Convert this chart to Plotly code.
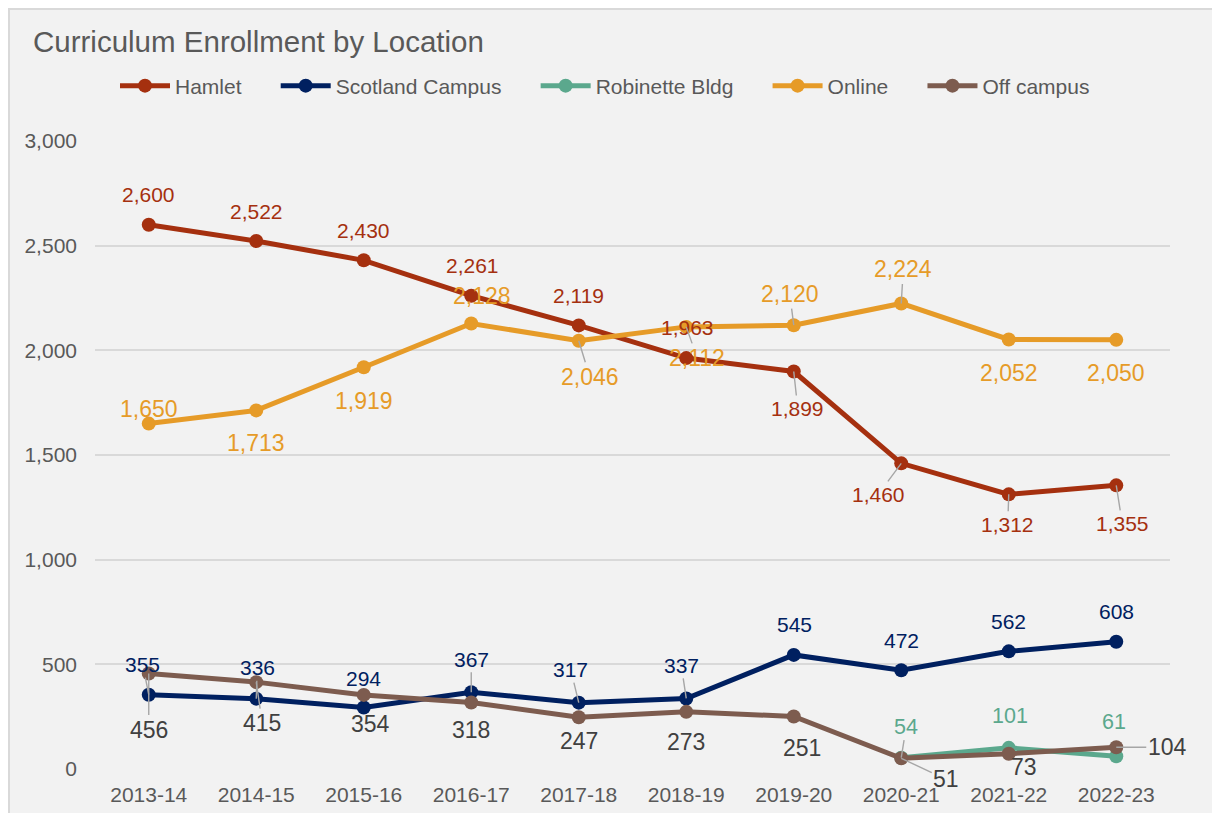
import plotly.graph_objects as go

# ---------------- data ----------------
years = ["2013-14", "2014-15", "2015-16", "2016-17", "2017-18",
         "2018-19", "2019-20", "2020-21", "2021-22", "2022-23"]
hamlet = [2600, 2522, 2430, 2261, 2119, 1963, 1899, 1460, 1312, 1355]
scotland = [355, 336, 294, 367, 317, 337, 545, 472, 562, 608]
robinette = [None, None, None, None, None, None, None, 54, 101, 61]
online = [1650, 1713, 1919, 2128, 2046, 2112, 2120, 2224, 2052, 2050]
off_campus = [456, 415, 354, 318, 247, 273, 251, 51, 73, 104]
y_ticks = [0, 500, 1000, 1500, 2000, 2500, 3000]

series_names = ["Hamlet", "Scotland Campus", "Robinette Bldg", "Online", "Off campus"]
series_values = [hamlet, scotland, robinette, online, off_campus]

# ---------------- style ----------------
FONT = "Liberation Sans, Arial, sans-serif"
line_colors = ["#A5300F", "#002060", "#5BA88D", "#E69B28", "#7D5C4F"]
label_colors = ["#A5300F", "#002060", "#5BA88D", "#E69B28", "#404040"]
label_sizes = [21, 21, 21.5, 23, 23]
legend_pad = [5, 5, 5, 5, 0]          # extra spacing after legend entries (nbsp count)
LEADER = "#A6A6A6"

# label offsets in pixels (dx, dy, leader line)
label_offsets = [
    [(0, -30, 0), (0, -30, 0), (0, -30, 0), (1, -30, 0), (0, -30, 0),
     (1, -31, 0), (4, 37, 1), (-23, 31, 1), (-1, 30, 1), (6, 38, 1)],
    [(-6, -30, 1), (1, -31, 1), (0, -29, 0), (0, -33, 1), (-8, -33, 1),
     (-5, -33, 1), (1, -30, 0), (0, -30, 0), (0, -30, 0), (0, -30, 0)],
    [None, None, None, None, None, None, None, (5, -31, 1), (1, -32, 0), (-2, -34, 0)],
    [(0, -15, 0), (0, 33, 0), (0, 34, 0), (11, -28, 0), (11, 36, 1),
     (11, 31, 1), (-4, -31, 1), (2, -34, 1), (0, 34, 0), (0, 33, 0)],
    [(0, 56, 1), (6, 41, 1), (7, 29, 0), (0, 28, 0), (0, 24, 0),
     (0, 30, 0), (8, 32, 0), (45, 21, 1), (15, 13, 0), (51, 0, 1)],
]

# page body has an 8px margin; figure sized to fill the rest of the window
W, H = 1212, 805
ML, MR, MT, MB = 87, 50, 133, 44
PW, PH = W - ML - MR, H - MT - MB

fig = go.Figure()
for name, vals, col, pad in zip(series_names, series_values, line_colors, legend_pad):
    fig.add_trace(go.Scatter(
        x=years, y=vals, name=name + "\u00a0" * pad, mode="lines+markers",
        line=dict(color=col, width=5),
        marker=dict(color=col, size=14),
        cliponaxis=False, hoverinfo="x+y",
    ))

annotations = []
for vals, offs, lc, ls in zip(series_values, label_offsets, label_colors, label_sizes):
    for xv, yv, off in zip(years, vals, offs):
        if yv is None or off is None:
            continue
        dx, dy, leader = off
        annotations.append(dict(
            x=xv, y=yv, xref="x", yref="y", text=f"{yv:,}",
            showarrow=True, ax=dx, ay=dy, axref="pixel", ayref="pixel",
            arrowhead=0, arrowwidth=1.4, standoff=0,
            arrowcolor=LEADER if leader else "rgba(0,0,0,0)",
            font=dict(family=FONT, size=ls, color=lc),
        ))

# chart-area border on the left / top edge
fig.add_shape(type="rect", xref="paper", yref="paper",
              x0=(1 - ML) / PW, x1=(W + 10 - ML) / PW,
              y0=-(MB + 10) / PH, y1=(PH + MT - 1) / PH,
              fillcolor="rgba(0,0,0,0)", line=dict(color="#D9D9D9", width=2),
              layer="below")

fig.update_layout(
    width=W, height=H,
    margin=dict(l=ML, r=MR, t=MT, b=MB, pad=0, autoexpand=False),
    paper_bgcolor="#F2F2F2",
    plot_bgcolor="#F2F2F2",
    font=dict(family=FONT, color="#595959"),
    title=dict(text="Curriculum Enrollment by Location", x=25 / W, xref="container",
               xanchor="left", y=1 - 34 / H, yref="container", yanchor="middle",
               font=dict(family=FONT, size=29.5, color="#595959")),
    showlegend=True,
    legend=dict(orientation="h", xref="container", yref="container",
                x=107 / W, xanchor="left", y=1 - 78 / H, yanchor="middle",
                font=dict(family=FONT, size=21, color="#595959"),
                itemwidth=50, bgcolor="rgba(0,0,0,0)", traceorder="normal"),
    annotations=annotations,
    xaxis=dict(type="category", range=[-0.5, 9.5], showgrid=False, showline=False,
               zeroline=False, ticks="", ticklabelstandoff=11, automargin=False,
               tickfont=dict(family=FONT, size=21, color="#595959")),
    yaxis=dict(range=[0, 3000], tickvals=y_ticks, tickformat=",", showgrid=True,
               gridcolor="#D9D9D9", gridwidth=1.5, zeroline=False, showline=False,
               ticks="", ticklabelstandoff=17, automargin=False,
               tickfont=dict(family=FONT, size=21, color="#595959")),
)

fig.write_html("out.html")
